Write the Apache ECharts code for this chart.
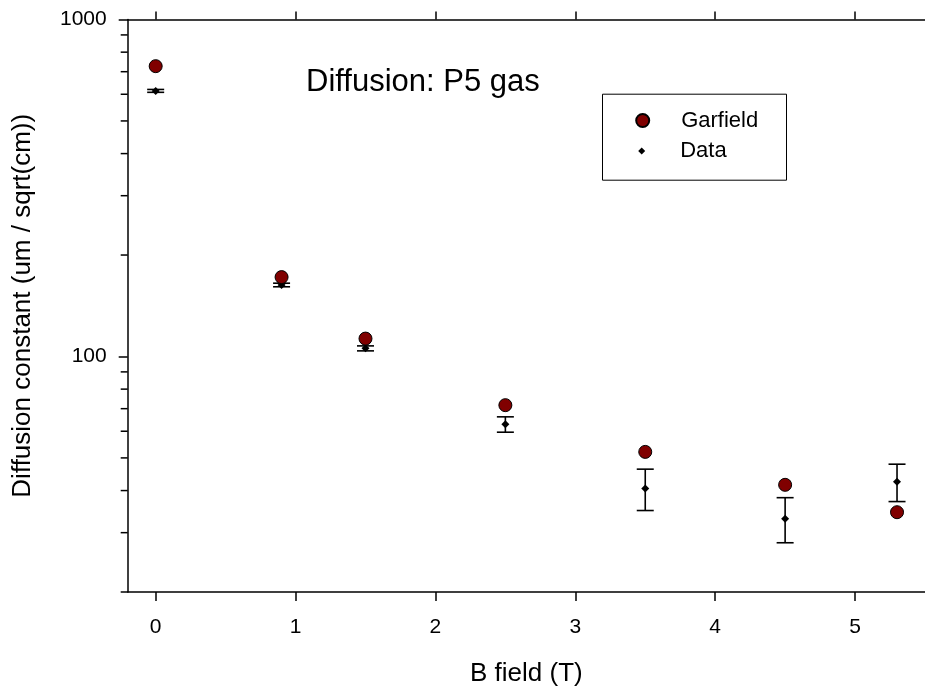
<!DOCTYPE html>
<html><head><meta charset="utf-8">
<script src="https://cdn.jsdelivr.net/npm/echarts@6/dist/echarts.min.js"></script>
<style>html,body{margin:0;padding:0;background:#fff}#c{width:925px;height:692px}</style>
</head><body><div id="c"></div>
<script>
const bField   = [0, 0.9, 1.5, 2.5, 3.5, 4.5, 5.3];
const garfield = [727, 172, 113, 71.7, 52.1, 41.6, 34.5];
const dataVals = [614, 163, 105.7, 62.9, 40.6, 33.0, 42.5];
const errLow   = [608, 161, 103.9, 59.6, 34.9, 28.0, 37.1];
const errHigh  = [620, 165, 107.5, 66.2, 46.3, 38.1, 47.9];
const xTicks = [0, 1, 2, 3, 4, 5];
const yMajor = [100, 1000];
const yMinor = [20, 30, 40, 50, 60, 70, 80, 90, 200, 300, 400, 500, 600, 700, 800, 900];

const X_MIN = -0.2, X_MAX = 5.5, Y_MIN = 20, Y_MAX = 1000;
const FONT = 'Liberation Sans, Arial, sans-serif';
const chart = echarts.init(document.getElementById('c'), null, {renderer: 'canvas'});
const axLine = {show: true, onZero: false, lineStyle: {color: '#000', width: 1.5}};
const tickStyle = {color: '#000', width: 1.5};

chart.setOption({
  animation: false,
  backgroundColor: '#fff',
  title: {
    text: 'Diffusion: P5 gas', left: 306, top: 67, padding: 0,
    textStyle: {fontSize: 31, fontWeight: 'normal', color: '#000', fontFamily: FONT}
  },
  grid: {left: 127.7, top: 19.5, right: -3, bottom: 96.3, containLabel: false},
  xAxis: [
    {
      type: 'value', position: 'bottom', min: X_MIN, max: X_MAX,
      axisLine: axLine,
      axisTick: {show: true, inside: false, length: 9, customValues: xTicks, lineStyle: tickStyle},
      axisLabel: {customValues: xTicks, fontSize: 21, color: '#000', margin: 25, fontFamily: FONT},
      splitLine: {show: false},
      name: 'B field (T)', nameLocation: 'middle', nameGap: 69,
      nameTextStyle: {fontSize: 26, color: '#000', fontFamily: FONT}
    },
    {
      type: 'value', position: 'top', min: X_MIN, max: X_MAX,
      axisLine: axLine,
      axisTick: {show: true, inside: false, length: 8, customValues: xTicks, lineStyle: tickStyle},
      axisLabel: {show: false},
      splitLine: {show: false}
    }
  ],
  yAxis: [
    {
      type: 'log', logBase: 10, min: Y_MIN, max: Y_MAX, position: 'left',
      axisLine: axLine,
      axisTick: {show: true, inside: false, length: 9, customValues: yMajor, lineStyle: tickStyle},
      axisLabel: {customValues: yMajor, fontSize: 21, color: '#000', margin: 21, fontFamily: FONT,
                  formatter: v => String(Math.round(v))},
      splitLine: {show: false},
      name: 'Diffusion constant (um / sqrt(cm))', nameLocation: 'middle', nameGap: 92, nameRotate: 90,
      nameTextStyle: {fontSize: 26, color: '#000', fontFamily: FONT}
    }
  ],
  legend: [
    {
      data: [{name: 'Garfield'}], left: 635.2, top: 109.5, padding: 0, itemWidth: 13, itemHeight: 13,
      selectedMode: false,
      textStyle: {fontSize: 22, color: '#000', fontFamily: FONT, padding: [0, 0, 0, 27]}
    },
    {
      data: [{name: 'Data'}], left: 638.2, top: 140, padding: 0, itemWidth: 7, itemHeight: 7,
      selectedMode: false,
      textStyle: {fontSize: 22, color: '#000', fontFamily: FONT, padding: [0, 0, 0, 30]}
    }
  ],
  graphic: [
    {type: 'rect', left: 600, top: 91.7, z: 10, shape: {width: 184, height: 86},
     style: {fill: 'none', stroke: '#000', lineWidth: 1}}
  ],
  series: [
    {
      type: 'custom', name: 'minorTicks', xAxisIndex: 0, yAxisIndex: 0, silent: true, z: 5, clip: false,
      data: [[X_MIN, Y_MIN]],
      encode: {x: 0, y: 1},
      renderItem: function (params, api) {
        const children = yMinor.map(function (v) {
          const p = api.coord([X_MIN, v]);
          return {type: 'line', shape: {x1: p[0] - 7, y1: p[1], x2: p[0], y2: p[1]},
                  style: {stroke: '#000', lineWidth: 1.5}};
        });
        return {type: 'group', children: children};
      }
    },
    {
      type: 'custom', name: 'errorbars', xAxisIndex: 0, yAxisIndex: 0, silent: true, z: 2,
      data: bField.map((x, i) => [x, errLow[i], errHigh[i]]),
      encode: {x: 0, y: [1, 2]},
      renderItem: function (params, api) {
        const x = api.value(0);
        const lo = api.coord([x, api.value(1)]);
        const hi = api.coord([x, api.value(2)]);
        const hw = 8.5;
        const st = {stroke: '#000', lineWidth: 1.6};
        return {type: 'group', children: [
          {type: 'line', shape: {x1: lo[0], y1: lo[1], x2: hi[0], y2: hi[1]}, style: st},
          {type: 'line', shape: {x1: lo[0] - hw, y1: lo[1], x2: lo[0] + hw, y2: lo[1]}, style: st},
          {type: 'line', shape: {x1: hi[0] - hw, y1: hi[1], x2: hi[0] + hw, y2: hi[1]}, style: st}
        ]};
      }
    },
    {
      type: 'scatter', name: 'Data', xAxisIndex: 0, yAxisIndex: 0, z: 3,
      symbol: 'diamond', symbolSize: 8,
      itemStyle: {color: '#000', opacity: 1},
      data: bField.map((x, i) => [x, dataVals[i]])
    },
    {
      type: 'scatter', name: 'Garfield', xAxisIndex: 0, yAxisIndex: 0, z: 4,
      symbol: 'circle', symbolSize: 13,
      itemStyle: {color: '#800000', borderColor: '#000', borderWidth: 1, opacity: 1},
      data: bField.map((x, i) => [x, garfield[i]])
    }
  ]
});
</script></body></html>
